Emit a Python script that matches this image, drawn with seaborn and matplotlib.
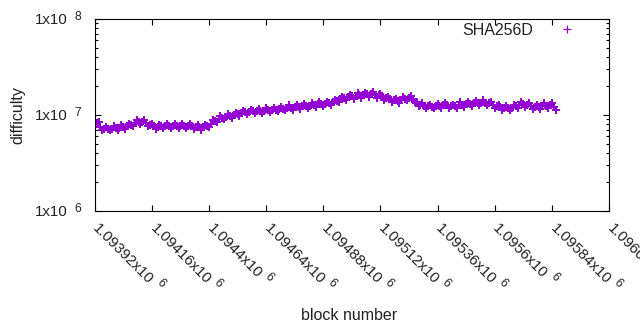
import numpy as np
import pandas as pd
import matplotlib
matplotlib.use("Agg")
import matplotlib.pyplot as plt
import matplotlib.ticker as mticker
import matplotlib.transforms as mtransforms
import seaborn as sns

# Network difficulty per sampled block (every 8th block), in millions
first_block = 1093920
block_step = 8
difficulty_millions = [
    8.87, 8.15, 8.46, 7.46, 6.90, 7.19, 7.50, 7.17, 6.90, 7.23,
    7.60, 7.32, 6.98, 7.39, 7.78, 7.46, 7.15, 7.64, 8.15, 7.92,
    7.68, 8.22, 8.77, 8.45, 8.06, 8.43, 8.77, 8.18, 7.60, 7.89,
    8.15, 7.65, 7.15, 7.55, 7.96, 7.62, 7.24, 7.70, 8.15, 7.70,
    7.32, 7.69, 8.15, 7.72, 7.32, 7.73, 8.15, 7.69, 7.24, 7.64,
    8.06, 7.59, 7.15, 7.53, 7.96, 7.48, 7.06, 7.49, 7.96, 7.69,
    7.50, 8.15, 8.87, 8.66, 8.46, 9.07, 9.76, 9.40, 9.09, 9.64,
    10.24, 9.80, 9.31, 9.92, 10.49, 10.13, 9.76, 10.40, 11.01, 10.69,
    10.24, 10.85, 11.41, 10.88, 10.37, 10.95, 11.55, 11.03, 10.49, 11.10,
    11.69, 11.16, 10.62, 11.27, 11.97, 11.40, 10.88, 11.54, 12.26, 11.68,
    11.14, 11.82, 12.56, 11.95, 11.41, 12.06, 12.86, 12.18, 11.55, 12.28,
    13.02, 12.38, 11.83, 12.52, 13.34, 12.70, 12.12, 12.91, 13.66, 13.05,
    12.41, 13.11, 13.82, 13.24, 12.71, 13.58, 14.50, 14.09, 13.66, 14.57,
    15.58, 14.95, 14.33, 15.33, 16.35, 15.62, 14.85, 15.81, 16.75, 16.02,
    15.21, 16.20, 17.15, 16.40, 15.58, 16.48, 17.35, 16.30, 15.21, 15.98,
    16.55, 15.59, 14.50, 15.07, 15.58, 14.52, 13.50, 14.16, 14.85, 14.03,
    13.34, 14.33, 15.58, 14.82, 14.16, 14.91, 15.77, 14.50, 13.50, 13.61,
    12.41, 12.83, 13.34, 12.49, 11.69, 12.29, 12.86, 12.25, 11.69, 12.32,
    13.02, 12.41, 11.83, 12.56, 13.34, 12.58, 11.83, 12.35, 12.86, 12.33,
    11.83, 12.59, 13.50, 12.80, 12.26, 12.97, 13.82, 13.10, 12.41, 13.19,
    13.99, 13.29, 12.71, 13.38, 14.16, 13.40, 12.71, 13.21, 13.82, 12.83,
    11.97, 12.44, 12.86, 12.05, 11.14, 11.79, 12.41, 11.76, 11.14, 11.95,
    12.71, 12.31, 11.83, 12.76, 13.82, 13.00, 12.26, 12.71, 13.18, 12.33,
    11.55, 12.12, 12.71, 12.13, 11.55, 12.35, 13.18, 12.55, 11.97, 12.59,
    13.18, 12.26, 11.28,
]
series_name = "SHA256D"

x_ticks = [1093920, 1094160, 1094400, 1094640, 1094880,
           1095120, 1095360, 1095600, 1095840, 1096080]
x_tick_mantissas = ["1.09392", "1.09416", "1.0944", "1.09464", "1.09488",
                    "1.09512", "1.09536", "1.0956", "1.09584", "1.09608"]
x_tick_exponent = "6"
y_ticks = [1e6, 1e7, 1e8]
y_tick_exponents = ["6", "7", "8"]

blocks = first_block + block_step * np.arange(len(difficulty_millions))
df = pd.DataFrame({"block": blocks,
                   "difficulty": np.array(difficulty_millions) * 1e6})

sns.set_style("ticks")
plt.rcParams["font.family"] = ["Liberation Sans", "DejaVu Sans"]

FS = 10.8
FS_LABEL = 11.5
FS_EXP = FS * 0.8
TEXT = "#222222"
color = "#9400d3"

fig = plt.figure(figsize=(6.4, 3.3), dpi=100)
ax = fig.add_axes([94.7 / 640, 1 - 211 / 330, (609 - 94.7) / 640, (211 - 19) / 330])

sns.scatterplot(data=df, x="block", y="difficulty", ax=ax, marker="+",
                s=28, color=color, linewidth=1.4, legend=False)

ax.set_yscale("log")
ax.set_xlim(x_ticks[0], x_ticks[-1])
ax.set_ylim(1e6, 1e8)

for side in ["left", "right", "top", "bottom"]:
    ax.spines[side].set_visible(True)
    ax.spines[side].set_color("black")
    ax.spines[side].set_linewidth(0.8)

ax.xaxis.set_major_locator(mticker.FixedLocator(x_ticks))
ax.xaxis.set_minor_locator(mticker.NullLocator())
ax.yaxis.set_major_locator(mticker.FixedLocator(y_ticks))
ax.yaxis.set_minor_locator(mticker.LogLocator(base=10, subs=np.arange(2, 10)))
ax.yaxis.set_minor_formatter(mticker.NullFormatter())

ax.tick_params(axis="both", which="major", direction="in", length=4.5,
               width=0.8, color="black", top=True, right=True,
               labelbottom=False, labelleft=False)
ax.tick_params(axis="y", which="minor", direction="in", length=2.3,
               width=0.8, color="black", left=True, right=True)

renderer = fig.canvas.get_renderer()


def text_width(s, size):
    t = fig.text(0, 0, s, fontsize=size)
    w = t.get_window_extent(renderer).width
    t.remove()
    return w


def shifted(base, dx, dy):
    return mtransforms.offset_copy(base, fig=fig, x=dx, y=dy, units="dots")


c45 = np.sqrt(0.5)

# x tick labels: mantissa "x10" with raised exponent, slanted downwards
xbase = mtransforms.blended_transform_factory(ax.transData, ax.transAxes)
bx, by = -2.4, -18.0
GAP_X, RAISE_X = 4.0, 7.0
for tick, mant in zip(x_ticks, x_tick_mantissas):
    main = mant + "x10"
    ax.text(tick, 0, main, transform=shifted(xbase, bx, by), rotation=-45,
            rotation_mode="anchor", ha="left", va="baseline", fontsize=FS,
            color=TEXT, clip_on=False)
    along = text_width(main, FS) + GAP_X
    ex = bx + along * c45 + RAISE_X * c45
    ey = by - along * c45 + RAISE_X * c45
    ax.text(tick, 0, x_tick_exponent, transform=shifted(xbase, ex, ey),
            rotation=-45, rotation_mode="anchor", ha="left", va="baseline",
            fontsize=FS_EXP, color=TEXT, clip_on=False)

# y tick labels
ybase = mtransforms.blended_transform_factory(ax.transAxes, ax.transData)
for val, e in zip(y_ticks, y_tick_exponents):
    ax.text(0, val, "1x10", transform=shifted(ybase, -26.7, -5.3),
            ha="right", va="baseline", fontsize=FS, color=TEXT, clip_on=False)
    ax.text(0, val, e, transform=shifted(ybase, -20.2, -1.3),
            ha="left", va="baseline", fontsize=FS_EXP, color=TEXT, clip_on=False)

ax.set_xlabel("block number", fontsize=FS_LABEL, color=TEXT)
ax.set_ylabel("difficulty", fontsize=FS_LABEL, color=TEXT)
ax.xaxis.set_label_coords(0.4945, -0.505)
ax.yaxis.set_label_coords(-0.135, 0.5)

handle = plt.Line2D([], [], marker="+", linestyle="none", color=color,
                    markersize=6, markeredgewidth=0.9)
fig.legend([handle], [series_name], loc="upper right", frameon=False,
           markerfirst=False, fontsize=FS_LABEL, handlelength=2.0,
           handletextpad=1.1, borderpad=0, borderaxespad=0,
           bbox_to_anchor=(583 / 640, 1 - 23 / 330),
           bbox_transform=fig.transFigure, labelcolor=TEXT)

fig.savefig("out.png", dpi=100)
